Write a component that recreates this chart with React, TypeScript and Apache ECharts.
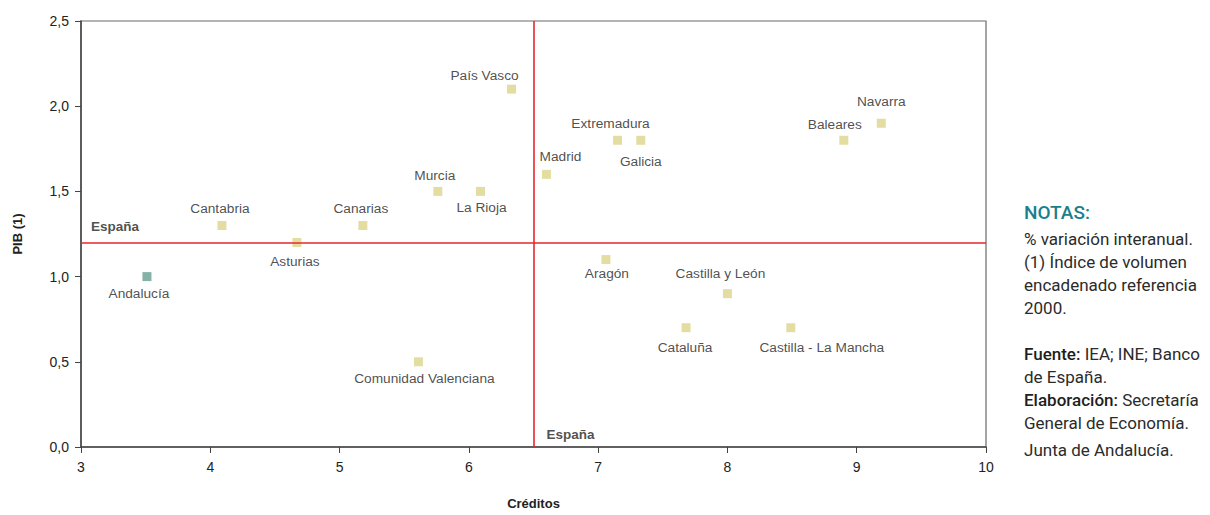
import React, { useEffect, useRef } from "react";
import * as echarts from "echarts";

const regions = [
  "País Vasco", "Extremadura", "Galicia", "Madrid", "Murcia", "La Rioja",
  "Cantabria", "Canarias", "Asturias", "Andalucía", "Aragón", "Castilla y León",
  "Cataluña", "Castilla - La Mancha", "Comunidad Valenciana", "Baleares", "Navarra",
];
const creditos = [6.33, 7.15, 7.33, 6.6, 5.76, 6.09, 4.09, 5.18, 4.67, 3.51, 7.06, 8.0, 7.68, 8.49, 5.61, 8.9, 9.19];
const pib = [2.1, 1.8, 1.8, 1.6, 1.5, 1.5, 1.3, 1.3, 1.2, 1.0, 1.1, 0.9, 0.7, 0.7, 0.5, 1.8, 1.9];
const espanaCreditos = 6.5;
const espanaPib = 1.2;
const xTicks = [3, 4, 5, 6, 7, 8, 9, 10];
const yTicks = ["0,0", "0,5", "1,0", "1,5", "2,0", "2,5"];
const highlight = "Andalucía";

// label placement (style only)
const labelPlace: Record<string, [string, number, number]> = {
  "País Vasco": ["top", -27, 3],
  "Extremadura": ["top", -7, 0],
  "Galicia": ["bottom", 0, 5],
  "Madrid": ["top", 14, -1],
  "Murcia": ["top", -3, 1],
  "La Rioja": ["bottom", 1, 0],
  "Cantabria": ["top", -2, 0],
  "Canarias": ["top", -2, 0],
  "Asturias": ["bottom", -2, 2],
  "Andalucía": ["bottom", -8, 0],
  "Aragón": ["bottom", 1, -3],
  "Castilla y León": ["top", -7, -4],
  "Cataluña": ["bottom", -1, 3],
  "Castilla - La Mancha": ["bottom", 31, 3],
  "Comunidad Valenciana": ["bottom", 6, 0],
  "Baleares": ["top", -9, 1],
  "Navarra": ["top", 0, -5],
};

const FONT = "'Liberation Sans', Arial, sans-serif";
const NOTE_FONT = "Roboto, 'Liberation Sans', Arial, sans-serif";

export default function App() {
  const ref = useRef<HTMLDivElement>(null);
  useEffect(() => {
    if (!ref.current) return;
    const chart = echarts.init(ref.current, null, { renderer: "svg" });
    const data = regions.map((name, i) => {
      const [pos, dx, dy] = labelPlace[name] || ["top", 0, 0];
      return {
        name,
        value: [creditos[i], pib[i]],
        itemStyle: { color: name === highlight ? "#679f90" : "#ddd48b" },
        label: { position: pos, offset: [dx, dy] },
      };
    });
    const noteLine = (t: string, y: number, extra: any = {}) => ({
      type: "text",
      left: 1024,
      top: y,
      style: { text: t, font: `17px ${NOTE_FONT}`, fill: "#2b2b2b", ...extra },
    });
    const richLine = (bold: string, rest: string, y: number) => ({
      type: "text", left: 1024, top: y,
      style: {
        text: `{b|${bold}}${rest}`,
        font: `17px ${NOTE_FONT}`, fill: "#2b2b2b",
        rich: { b: { font: `500 17px ${NOTE_FONT}`, fill: "#1e1e1e" } },
      },
    });
    chart.setOption({
      animation: false,
      grid: {
        left: 81, width: 905, top: 21, height: 431,
        show: true, borderColor: "#6a6a6a", borderWidth: 1.2,
      },
      xAxis: {
        type: "value", min: 3, max: 10, interval: 1,
        name: "Créditos", nameLocation: "middle", nameGap: 50,
        nameTextStyle: { fontFamily: FONT, fontSize: 13, fontWeight: "bold", color: "#222" },
        axisLine: { show: true, lineStyle: { color: "#444", width: 1.5 } },
        axisTick: { show: true, length: 6, lineStyle: { color: "#444" } },
        axisLabel: {
          margin: 13, fontFamily: FONT, fontSize: 14, color: "#222",
          formatter: (v: number) => (xTicks.includes(v) ? String(v) : ""),
        },
        splitLine: { show: false },
      },
      yAxis: {
        type: "value", min: 0, max: 2.5, interval: 0.5,
        name: "PIB (1)", nameLocation: "middle", nameGap: 57, nameRotate: 90,
        nameTextStyle: { fontFamily: FONT, fontSize: 13, fontWeight: "bold", color: "#222" },
        axisLine: { show: true, lineStyle: { color: "#444", width: 1.5 } },
        axisTick: { show: true, length: 6, lineStyle: { color: "#444" } },
        axisLabel: {
          margin: 12, fontFamily: FONT, fontSize: 14, color: "#222",
          formatter: (v: number) => yTicks[Math.round(v / 0.5)] ?? "",
        },
        splitLine: { show: false },
      },
      series: [
        {
          type: "scatter",
          symbol: "rect",
          symbolSize: 9,
          data,
          label: {
            show: true,
            formatter: "{b}",
            fontFamily: FONT, fontSize: 13.7, color: "#222",
            distance: 5,
          },
          markLine: {
            silent: true,
            symbol: "none",
            label: { show: false },
            lineStyle: { color: "#e8262c", width: 1.6, type: "solid" },
            data: [{ xAxis: espanaCreditos }, { yAxis: espanaPib }],
          },
          z: 3,
        },
        {
          type: "scatter",
          symbolSize: 0,
          silent: true,
          data: [
            { value: [3, espanaPib], label: { position: "right", offset: [5, -16] } },
            { value: [espanaCreditos, 0], label: { position: "right", offset: [8, -13] } },
          ],
          label: {
            show: true,
            formatter: "España",
            fontFamily: FONT, fontSize: 13.5, fontWeight: "bold", color: "#222",
          },
        },
      ],
      graphic: [
        noteLine("NOTAS:", 203, { font: `500 19px ${NOTE_FONT}`, fill: "#1b7f8c" }),
        noteLine("% variación interanual.", 230),
        noteLine("(1) Índice de volumen", 253),
        noteLine("encadenado referencia", 276),
        noteLine("2000.", 299),
        richLine("Fuente:", " IEA; INE; Banco", 345),
        noteLine("de España.", 368),
        richLine("Elaboración:", " Secretaría", 391),
        noteLine("General de Economía.", 414),
        noteLine("Junta de Andalucía.", 441),
      ],
    });
    return () => chart.dispose();
  }, []);
  return (
    <div
      ref={ref}
      style={{ position: "absolute", left: 0, top: 0, width: 1210, height: 515, background: "#fff" }}
    />
  );
}
